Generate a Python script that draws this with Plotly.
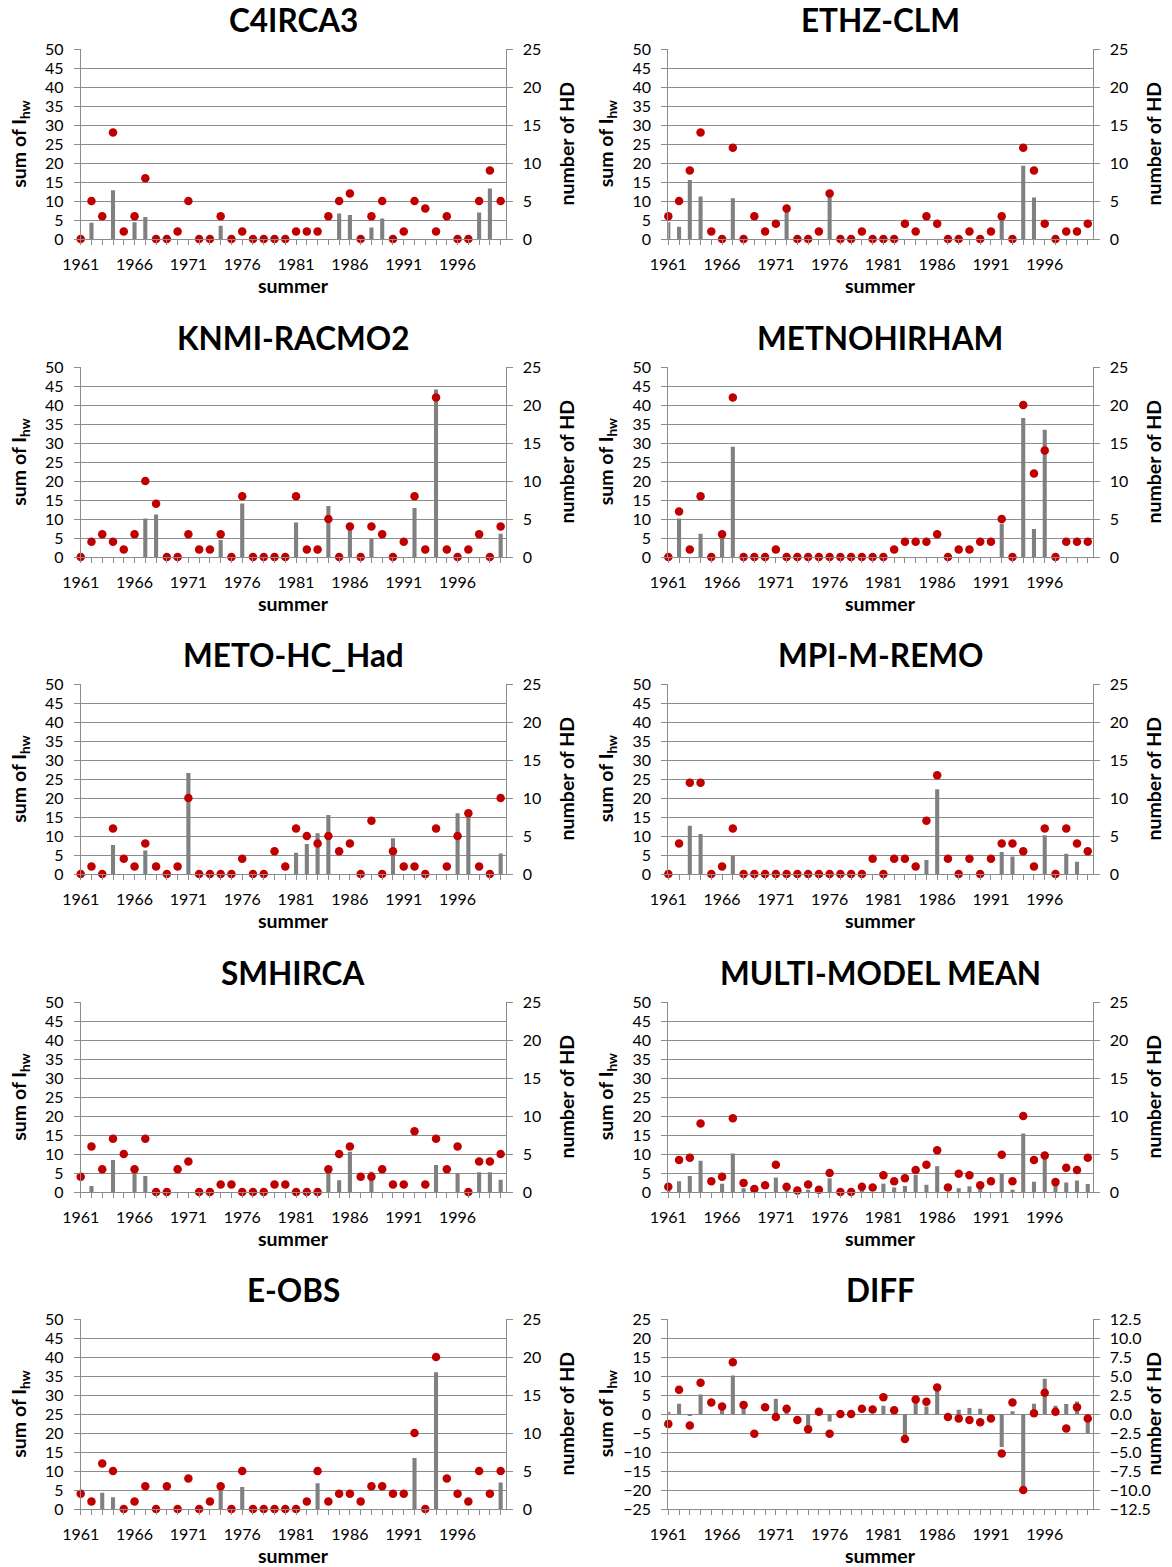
import plotly.graph_objects as go

years = list(range(1961, 2001))
label_years = [1961, 1966, 1971, 1976, 1981, 1986, 1991, 1996]
tick_labels = [str(y) for y in label_years]

titles = ["C4IRCA3", "ETHZ-CLM", "KNMI-RACMO2", "METNOHIRHAM", "METO-HC_Had",
          "MPI-M-REMO", "SMHIRCA", "MULTI-MODEL MEAN", "E-OBS", "DIFF"]

c4_sum = [0, 4.3, 0, 12.8, 0, 4.4, 5.8, 0, 0, 0, 0, 0, 0, 3.5, 0, 0, 0, 0, 0, 0,
          0, 0, 0, 0, 6.7, 6.3, 0, 3.0, 5.4, 0, 0, 0, 0, 0, 0, 0, 0, 7.0, 13.3, 0]
c4_hd = [0, 5, 3, 14, 1, 3, 8, 0, 0, 1, 5, 0, 0, 3, 0, 1, 0, 0, 0, 0,
         1, 1, 1, 3, 5, 6, 0, 3, 5, 0, 1, 5, 4, 1, 3, 0, 0, 5, 9, 5]

ethz_sum = [4.4, 3.2, 15.5, 11.2, 0, 0, 10.7, 0, 0, 0, 0, 7.5, 0, 0, 0, 11.5, 0, 0, 0, 0,
            0, 0, 0, 0, 0, 0, 0, 0, 0, 0, 0, 6.5, 0, 19.3, 10.9, 0, 0, 0, 0, 0]
ethz_hd = [3, 5, 9, 14, 1, 0, 12, 0, 3, 1, 2, 4, 0, 0, 1, 6, 0, 0, 1, 0,
           0, 0, 2, 1, 3, 2, 0, 0, 1, 0, 1, 3, 0, 12, 9, 2, 0, 1, 1, 2]

knmi_sum = [0, 0, 0, 0, 0, 0, 10.1, 11.2, 0, 0, 0, 0, 0, 4.5, 0, 14.1, 0, 0, 0, 0,
            9.1, 0, 0, 13.4, 0, 8.0, 0, 4.9, 0, 0, 0, 12.9, 0, 44.1, 0, 0, 0, 0, 0, 6.1]
knmi_hd = [0, 2, 3, 2, 1, 3, 10, 7, 0, 0, 3, 1, 1, 3, 0, 8, 0, 0, 0, 0,
           8, 1, 1, 5, 0, 4, 0, 4, 3, 0, 2, 8, 1, 21, 1, 0, 1, 3, 0, 4]

metno_sum = [0, 10.1, 0, 6.1, 0, 5.5, 29.0, 0, 0, 0, 0, 0, 0, 0, 0, 0, 0, 0, 0, 0,
             0, 0, 0, 0, 0, 0, 0, 0, 0, 0, 0, 8.8, 0, 36.6, 7.4, 33.5, 0, 0, 0, 0]
metno_hd = [0, 6, 1, 8, 0, 3, 21, 0, 0, 0, 1, 0, 0, 0, 0, 0, 0, 0, 0, 0,
            0, 1, 2, 2, 2, 3, 0, 1, 1, 2, 2, 5, 0, 20, 11, 14, 0, 2, 2, 2]

meto_sum = [0, 0, 0, 7.6, 0, 0, 6.2, 0, 0, 0, 26.6, 0, 0, 0, 0, 0, 0, 0, 0, 0,
            5.6, 7.9, 10.7, 15.5, 0, 0, 0, 0, 0, 9.4, 0, 0, 0, 0, 0, 16.0, 15.5, 0, 0, 5.4]
meto_hd = [0, 1, 0, 6, 2, 1, 4, 1, 0, 1, 10, 0, 0, 0, 0, 2, 0, 0, 3, 1,
           6, 5, 4, 5, 3, 4, 0, 7, 0, 3, 1, 1, 0, 6, 1, 5, 8, 1, 0, 10]

mpi_sum = [0, 0, 12.7, 10.5, 0, 0, 4.8, 0, 0, 0, 0, 0, 0, 0, 0, 0, 0, 0, 0, 0,
           0, 0, 0, 0, 3.7, 22.3, 0, 0, 0, 0, 0, 5.8, 4.6, 0, 0, 10.2, 0, 5.3, 3.2, 0]
mpi_hd = [0, 4, 12, 12, 0, 1, 6, 0, 0, 0, 0, 0, 0, 0, 0, 0, 0, 0, 0, 2,
          0, 2, 2, 1, 7, 13, 2, 0, 2, 0, 2, 4, 4, 3, 1, 6, 0, 6, 4, 3]

smhi_sum = [0, 1.6, 0, 8.4, 0, 6.0, 4.2, 0, 0, 0, 0, 0, 0, 0, 0, 0, 0, 0, 0, 0,
            0, 0, 0, 5.5, 3.1, 10.6, 0, 5.3, 0, 0, 0, 0, 0, 7.1, 0, 4.9, 0, 5.2, 5.2, 3.2]
smhi_hd = [2, 6, 3, 7, 5, 3, 7, 0, 0, 3, 4, 0, 0, 1, 1, 0, 0, 0, 1, 1,
           0, 0, 0, 3, 5, 6, 2, 2, 3, 1, 1, 8, 1, 7, 3, 6, 0, 4, 4, 5]

mmm_sum = [0.5, 2.8, 4.2, 8.2, 0, 2.2, 10.1, 1.0, 0, 0, 3.8, 0.5, 0, 0.6, 0, 3.6, 0, 0, 0.3, 0,
           2.2, 1.2, 1.6, 4.5, 1.9, 6.8, 0, 1.0, 1.5, 0.8, 0, 5.0, 0.6, 15.4, 2.7, 9.0, 2.0, 2.5, 3.0, 2.1]
mmm_hd = [0.7, 4.2, 4.5, 9.0, 1.4, 2.0, 9.7, 1.2, 0.4, 0.9, 3.6, 0.7, 0.2, 1.0, 0.3, 2.5, 0, 0, 0.7, 0.6,
          2.2, 1.4, 1.8, 2.9, 3.6, 5.5, 0.6, 2.4, 2.2, 0.9, 1.4, 4.9, 1.4, 10.0, 4.2, 4.8, 1.3, 3.2, 2.9, 4.5]

eobs_sum = [0, 0, 4.3, 3.1, 0, 0, 0, 0, 0, 0, 0, 0, 0, 5.4, 0, 5.8, 0, 0, 0, 0,
            0, 0, 6.8, 0, 0, 0, 0, 0, 0, 0, 0, 13.4, 0, 36.0, 0, 0, 0, 0, 0, 7.0]
eobs_hd = [2, 1, 6, 5, 0, 1, 3, 0, 3, 0, 4, 0, 1, 3, 0, 5, 0, 0, 0, 0,
           0, 1, 5, 1, 2, 2, 1, 3, 3, 2, 2, 10, 0, 20, 4, 2, 1, 5, 2, 5]

diff_sum = [0.6, 2.7, -0.3, 5.1, 0, 1.9, 10.1, 1.6, 0, 0, 4.0, 1.0, 0, -3.3, 0, -2.0, 0, 0, 0, 0,
            2.2, 0, -5.5, 5.0, 2.0, 6.4, 0, 1.1, 1.6, 1.4, 0, -8.7, 0.7, -20.0, 2.7, 9.3, 2.2, 2.6, 3.3, -5.0]
diff_hd = [-1.3, 3.2, -1.5, 4.1, 1.5, 1.0, 6.8, 1.2, -2.6, 0.9, -0.4, 0.7, -0.8, -2.0, 0.3, -2.6, 0, 0, 0.7, 0.6,
           2.2, 0.5, -3.3, 1.9, 1.6, 3.5, -0.4, -0.6, -0.8, -1.1, -0.6, -5.2, 1.5, -10.0, 0.1, 2.8, 0.3, -1.9, 0.9, -0.6]

sums = [c4_sum, ethz_sum, knmi_sum, metno_sum, meto_sum, mpi_sum, smhi_sum, mmm_sum, eobs_sum, diff_sum]
hds = [c4_hd, ethz_hd, knmi_hd, metno_hd, meto_hd, mpi_hd, smhi_hd, mmm_hd, eobs_hd, diff_hd]

W, H = 1172, 1567
FONT = "Lato"
GRID = "#8c8c8c"
BAR = "#808080"
DOT = "#C00000"

col_x = [(80.7, 505.5), (668.3, 1092.6)]
row_top = [49, 367, 684, 1002, 1319]
plot_h = 190

fig = go.Figure()
layout = dict(width=W, height=H, margin=dict(l=0, r=0, t=0, b=0, autoexpand=False),
              paper_bgcolor="white", plot_bgcolor="white", showlegend=False,
              font=dict(family=FONT, size=15, color="black"))
annotations = []

for i in range(10):
    r, c = divmod(i, 2)
    x0, x1 = col_x[c]
    top = row_top[r]
    bot = top + plot_h
    xd = [x0 / W, x1 / W]
    yd = [1 - bot / H, 1 - top / H]
    xa = "x" if i == 0 else f"x{i+1}"
    ya1 = "y" if i == 0 else f"y{2*i+1}"
    ya2 = f"y{2*i+2}"
    is_diff = titles[i] == "DIFF"

    fig.add_trace(go.Bar(x=years, y=sums[i], xaxis=xa, yaxis=ya1,
                         marker=dict(color=BAR, line=dict(width=0)), width=0.38))
    fig.add_trace(go.Scatter(x=years, y=hds[i], xaxis=xa, yaxis=ya2, mode="markers",
                             marker=dict(color=DOT, size=8.5), cliponaxis=False))

    layout["xaxis" if i == 0 else f"xaxis{i+1}"] = dict(
        domain=xd, anchor=ya1, range=[1961, 2000.45], tickmode="array",
        tickvals=label_years, ticktext=tick_labels, ticks="outside", ticklen=5,
        minor=dict(ticks="outside", ticklen=5, tickcolor=GRID, dtick=1, tick0=1961, showgrid=False),
        tickcolor=GRID, showline=True, linecolor=GRID, linewidth=1, automargin=False,
        showgrid=False, zeroline=False, tickangle=0, ticklabelstandoff=6,
        tickfont=dict(size=16, family=FONT))
    if is_diff:
        r1 = [-25, 25]; r2 = [-12.5, 12.5]; d2 = 2.5; fmt2 = ".1f"
    else:
        r1 = [0, 50]; r2 = [0, 25]; d2 = 5; fmt2 = "d"
    layout["yaxis" if i == 0 else f"yaxis{2*i+1}"] = dict(
        domain=yd, anchor=xa, range=r1, dtick=5, tick0=0, showgrid=True, automargin=False,
        gridcolor=GRID, gridwidth=1, zeroline=False, showline=True, linecolor=GRID,
        ticks="outside", ticklen=6, tickcolor=GRID, ticklabelstandoff=7,
        tickfont=dict(size=16, family=FONT))
    layout[f"yaxis{2*i+2}"] = dict(
        domain=yd, anchor=xa, overlaying=ya1, side="right", range=r2, dtick=d2, tick0=0,
        tickformat=fmt2, showgrid=False, zeroline=False, showline=True, linecolor=GRID,
        ticks="outside", ticklen=6, tickcolor=GRID, ticklabelstandoff=7, automargin=False,
        tickfont=dict(size=16, family=FONT))

    cx = (x0 + x1) / 2
    annotations.append(dict(text=f"<b>{titles[i]}</b>", x=cx / W, y=1 - (top - 29) / H,
                            xref="paper", yref="paper", showarrow=False,
                            font=dict(size=31.5, family=FONT), xanchor="center", yanchor="middle"))
    annotations.append(dict(text="<b>summer</b>", x=cx / W, y=1 - (bot + 46) / H,
                            xref="paper", yref="paper", showarrow=False,
                            font=dict(size=19.5, family=FONT), xanchor="center", yanchor="middle"))
    mid = (top + bot) / 2
    annotations.append(dict(text="<b>sum of I<sub>hw</sub></b>", x=(x0 - 61) / W, y=1 - mid / H,
                            xref="paper", yref="paper", showarrow=False, textangle=-90,
                            font=dict(size=19.5, family=FONT), xanchor="center", yanchor="middle"))
    annotations.append(dict(text="<b>number of HD</b>", x=(x1 + 60) / W, y=1 - mid / H,
                            xref="paper", yref="paper", showarrow=False, textangle=-90,
                            font=dict(size=19.5, family=FONT), xanchor="center", yanchor="middle"))

layout["annotations"] = annotations
fig.update_layout(**layout)
fig.write_html("out.html",
               post_script="document.body.style.margin='0';document.body.style.overflow='hidden';")
